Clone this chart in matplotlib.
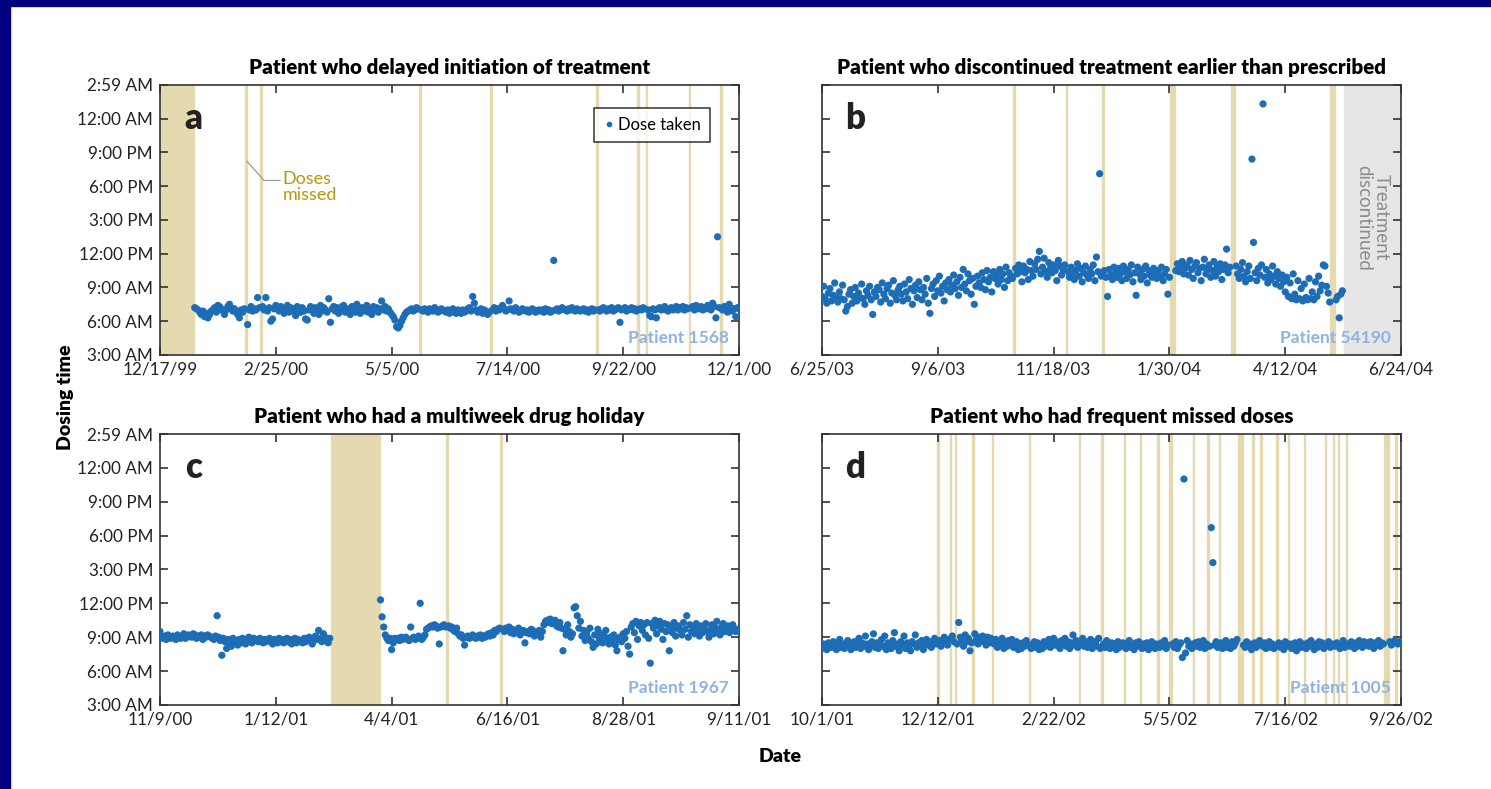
import numpy as np
import matplotlib
matplotlib.use("Agg")
import matplotlib.pyplot as plt
from matplotlib.lines import Line2D
from matplotlib.patches import Rectangle
from matplotlib.ticker import FuncFormatter

plt.rcParams['font.family'] = ['Lato', 'DejaVu Sans']

nan = np.nan

# panel a: one value per day (hour of day), nan = no dose that day
a_title = "Patient who delayed initiation of treatment"
a_dates = ["12/17/99", "2/25/00", "5/5/00", "7/14/00", "9/22/00", "12/1/00"]
a_span = 350
a_patient = "Patient 1568"
a_hours = [nan] * 21 + [
    7.2, 7.1, 7.0, 6.8, 6.6, 6.9, 6.4, 6.7, 6.3, 6.6,
    6.9, 7.0, 7.2, 6.8, 7.4, 7.3, 7.1, 6.9, 6.6, 7.0,
    7.3, 7.5, 7.2, 6.9, 7.1, 6.8, 6.6, 6.3, 7.0, 6.8,
    7.1, nan, 5.7, 7.0, 7.3, 6.9, 7.1, 7.0, 8.1, 7.2,
    nan, 7.3, 7.0, 8.1, 6.9, 7.2, 6.0, 6.2, 7.1, 7.4,
    7.2, 6.9, 7.3, 7.0, 6.7, 7.1, 7.4, 6.8, 7.2, 6.9,
    7.1, 6.5, 7.3, 7.0, 6.8, 7.2, 6.9, 6.2, 6.1, 7.0,
    7.3, 7.1, 6.7, 7.2, 7.0, 6.6, 7.4, 6.9, 7.2, 7.0,
    6.8, 8.0, 5.9, 7.1, 7.3, 6.9, 7.2, 6.7, 7.0, 7.3,
    7.4, 6.8, 7.1, 6.9, 6.6, 7.3, 7.0, 6.8, 7.5, 7.1,
    6.7, 7.2, 7.0, 6.9, 7.4, 6.8, 7.1, 6.6, 7.3, 7.0,
    7.2, 6.8, 7.1, 7.8, 7.0, 7.3, 6.9, 7.1, 6.8, 6.6,
    6.4, 6.1, 5.5, 5.4, 5.6, 6.0, 6.3, 6.6, 6.8, 6.9,
    7.0, 7.1, 6.9, 7.0, 7.2, 7.1, nan, 7.0, 6.9, 7.1,
    7.0, 6.8, 7.1, 7.0, 6.9, 7.2, 7.0, 6.8, 6.9, 7.1,
    7.0, 6.9, 6.8, 7.0, 6.7, 6.9, 7.1, 6.8, 6.7, 7.0,
    6.9, 6.7, 7.0, 6.8, 6.9, 7.1, 7.2, 6.9, 8.2, 7.6,
    7.0, 6.8, 6.9, 7.1, 6.7, 7.0, 6.9, 6.6, 6.8, nan,
    7.0, 7.2, 6.9, 7.1, 7.0, 7.2, 7.4, 7.1, 6.9, 7.0,
    7.8, 7.1, 7.0, 6.9, 7.2, 7.0, 6.8, 6.9, 7.1, 7.0,
    6.9, 7.0, 6.8, 6.9, 7.1, 7.0, 6.8, 6.9, 7.0, 6.9,
    7.0, 6.8, 7.1, 6.9, 7.0, 6.8, 6.9, 11.4, 7.0, 7.1,
    6.9, 7.0, 7.2, 7.1, 7.0, 6.9, 7.1, 7.0, 7.2, 7.0,
    6.9, 7.1, 7.0, 6.9, 7.0, 7.1, 6.9, 7.0, 6.8, 7.0,
    7.1, 6.9, 7.0, nan, 7.0, 6.9, 7.1, 7.2, 7.0, 6.9,
    7.1, 7.0, 7.2, 6.9, 7.0, 7.1, 7.2, 5.9, 7.0, 7.1,
    7.2, 6.9, 7.0, 7.1, 7.2, 7.0, 7.1, 6.9, nan, 7.1,
    7.0, 7.2, 7.1, nan, 7.0, 6.5, 6.4, 7.1, 7.0, 6.3,
    7.1, 7.2, 7.0, 7.1, 7.3, 7.0, 6.9, 7.1, 7.2, 7.0,
    7.1, 7.3, 7.0, 7.2, 7.1, 7.3, 7.0, 7.2, 7.1, nan,
    7.2, 7.3, 7.0, 7.4, 7.1, 7.2, 7.3, 7.0, 7.2, 7.1,
    7.4, 7.2, 7.0, 7.6, 7.3, 6.3, 13.5, 7.2, nan, 7.0,
    7.3, 7.1, 6.8, 7.5, 7.2, 6.9, 7.1, 6.4, 7.2, 7.1,
]

# panel b
b_title = "Patient who discontinued treatment earlier than prescribed"
b_dates = ["6/25/03", "9/6/03", "11/18/03", "1/30/04", "4/12/04", "6/24/04"]
b_span = 365
b_patient = "Patient 54190"
b_hours = [
    8.2, 9.1, 8.0, 7.6, 8.5, 8.9, 7.8, 8.3, 9.4, 8.1,
    7.7, 8.6, 8.0, 9.2, 7.9, 6.9, 7.3, 8.4, 8.8, 7.6,
    8.2, 9.0, 7.8, 8.5, 8.1, 9.3, 8.0, 7.5, 8.7, 8.3,
    9.1, 7.9, 6.6, 8.6, 8.2, 9.0, 8.8, 7.7, 9.4, 8.4,
    8.0, 8.9, 9.2, 7.6, 8.5, 9.6, 8.3, 7.9, 8.8, 9.1,
    8.4, 7.8, 9.3, 8.6, 8.0, 9.7, 8.9, 7.5, 8.7, 9.2,
    8.1, 9.5, 8.8, 7.9, 9.0, 8.4, 9.8, 7.6, 6.7, 8.9,
    9.3, 8.2, 9.6, 8.7, 10.0, 8.5, 9.1, 7.8, 9.4, 8.8,
    9.7, 8.6, 9.2, 10.1, 8.9, 9.5, 8.3, 9.9, 9.0, 10.6,
    9.3, 8.7, 10.2, 9.6, 8.4, 9.8, 7.5, 9.1, 10.0, 9.4,
    9.0, 10.3, 9.7, 8.8, 10.5, 9.5, 9.9, 8.6, 10.4, 9.8,
    10.1, 9.3, 10.6, 9.7, 10.2, 9.0, 10.8, 9.6, 10.3, 10.0,
    9.8, nan, 10.7, 10.2, 11.0, 10.4, 9.5, 10.9, 10.3, 10.6,
    9.7, 11.3, 10.5, 10.0, 11.1, 10.6, 11.5, 12.2, 10.2, 10.8,
    11.6, 10.4, 9.9, 11.2, 10.7, 10.3, 11.0, 10.5, 9.6, 11.4,
    10.9, 10.1, 10.6, 11.0, nan, 10.4, 9.9, 10.8, 10.2, 9.7,
    10.5, 11.1, 10.0, 10.7, 9.5, 10.3, 10.9, 10.1, 9.8, 10.6,
    10.2, 11.0, 9.6, 11.7, 10.4, 19.1, 10.0, nan, 10.5, 9.9,
    8.2, 10.6, 10.1, 9.7, 10.8, 10.3, 9.9, 10.7, 10.2, 9.6,
    10.9, 10.4, 9.8, 10.6, 10.1, 11.0, 9.5, 10.3, 8.3, 10.8,
    10.2, 9.7, 10.6, 10.0, 10.9, 9.4, 10.5, 10.1, 9.9, 10.7,
    10.3, 9.8, 10.5, 10.0, 10.8, 9.6, 10.2, 10.6, 8.4, 9.9,
    nan, nan, nan, 10.5, 11.1, 10.4, 10.9, 11.3, 10.2, 10.7,
    11.0, 10.1, 11.4, 10.6, 9.8, 10.9, 11.2, 10.3, 10.7, 9.6,
    10.8, 11.5, 10.2, 10.6, 11.0, 9.9, 10.5, 11.3, 10.0, 10.8,
    10.4, 11.1, 9.7, 10.6, 11.0, 12.4, 10.3, 10.8, nan, nan,
    nan, 10.9, 10.2, 9.8, 10.6, 11.2, 10.0, 9.5, 10.4, 10.9,
    9.8, 20.4, 13.0, 10.3, 9.6, 10.7, 10.1, 11.0, 25.3, 9.9,
    10.6, 9.4, 10.2, 9.7, 10.9, 10.0, 9.3, 10.4, 9.8, 9.1,
    10.1, 9.5, 8.6, 9.9, 8.2, 9.4, 8.0, 10.2, 8.4, 7.9,
    9.6, 8.0, 8.9, 7.8, 9.3, 8.1, 7.9, 9.8, 8.0, 8.6,
    7.9, 9.5, 8.2, 10.0, 8.7, 9.2, 11.0, 10.9, 9.1, 8.5,
    7.7, nan, nan, nan, 7.9, 8.2, 6.3, 8.4, 8.7,
]
b_stop_day = 329

# panel c
c_title = "Patient who had a multiweek drug holiday"
c_dates = ["11/9/00", "1/12/01", "4/4/01", "6/16/01", "8/28/01", "9/11/01"]
c_span = 365
c_patient = "Patient 1967"
c_before = [
    9.5, 9.0, 8.9, 9.1, 8.8, 9.2, 9.0, 8.9, 9.1, 9.0,
    8.8, 9.2, 9.0, 8.9, 9.1, 9.3, 8.9, 9.0, 9.2, 9.1,
    9.0, 9.3, 9.2, 8.9, 9.1, 9.0, 9.2, 8.8, 9.1, 9.0,
    9.2, 9.1, 9.0, 8.9, 8.8, 9.1, 10.9, 9.0, 8.7, 7.4,
    8.9, 8.6, 8.0, 8.8, 8.4, 8.2, 8.9, 8.6, 8.7, 8.3,
    8.8, 8.5, 8.9, 8.7, 8.4, 8.8, 9.0, 8.6, 8.5, 8.9,
    8.7, 8.8, 8.6, 8.9, 8.7, 8.5, 8.8, 8.6, 8.7, 8.9,
    8.6, 8.4, 8.8, 8.7, 8.5, 8.9, 8.6, 8.8, 8.5, 8.7,
    8.9, 8.6, 8.8, 8.4, 8.7, 8.9, 8.5, 8.8, 8.6, 8.7,
    8.5, 8.9, 8.6, 8.8, 9.0, 8.7, 8.4, 8.9, 9.1, 8.8,
    9.6, 8.9, 8.6, 9.3, 9.0, 8.7, 8.5, 8.9,
]
c_holiday_days = 31
c_after = [
    12.3, 10.8, 9.9, 9.2, 8.9, 8.7, 8.9, 7.9, 8.5, 8.9,
    8.8, 8.9, 8.7, 9.0, 8.8, 8.9, 9.0, 8.8, 8.7, 9.9,
    8.9, 9.0, 8.8, 8.9, 9.1, 12.0, 8.8, 9.0, 9.2, 9.7,
    9.8, 9.9, 10.0, 9.9, 10.1, 10.0, 9.8, 8.4, 9.9, 10.0,
    10.1, 9.9, nan, 10.0, 9.8, 9.9, 9.6, 9.5, 9.8, 9.3,
    9.1, 9.2, 8.9, 8.3, 9.0, 9.1, 8.9, 9.0, 9.2, 9.0,
    8.9, 9.1, 9.0, 9.2, 8.9, 9.1, 9.0, 9.2, 9.3, 9.1,
    9.4, 9.2, 9.6, 9.5, 9.7, 9.8, nan, 9.7, 9.5, 9.8,
    9.6, 9.9, 9.4, 9.7, 9.3, 9.6, 9.5, 9.8, 9.2, 9.4,
    9.6, 8.5, 9.4, 9.5, 9.3, 9.7, 9.6, 9.1, 9.4, 9.3,
    9.6, 9.0, 9.5, 10.1, 10.4, 10.5, 10.3, 10.6, 10.2, 10.4,
    10.5, 10.0, 9.9, 10.3, 9.8, 7.8, 9.7, 9.2, 10.1, 9.5,
    9.0, 9.3, 11.6, 11.7, 10.9, 9.8, 10.4, 9.1, 9.6, 8.7,
    9.4, 8.9, 9.8, 8.6, 8.1, 9.2, 8.4, 9.7, 8.8, 9.3,
    8.5, 9.1, 9.6, 8.9, 8.4, 9.0, 8.7, 9.2, 8.3, 7.8,
    8.8, 9.0, 8.6, 9.3, 8.9, 9.5, 8.2, 7.5, 9.9, 10.2,
    9.4, 10.4, 8.8, 10.0, 10.3, 9.6, 10.1, 9.2, 10.3, 8.9,
    6.7, 10.2, 9.8, 10.5, 9.3, 10.0, 10.4, 9.7, 8.8, 10.2,
    9.5, 10.1, 7.8, 9.9, 9.4, 10.3, 9.1, 9.8, 10.0, 9.6,
    9.2, 10.3, 9.7, 10.9, 9.0, 10.1, 9.5, 9.9, 9.3, 10.2,
    9.6, 9.1, 10.0, 9.4, 9.8, 10.2, 9.5, 9.0, 9.7, 10.1,
    9.3, 9.8, 10.4, 9.6, 9.2, 9.9, 10.2, 9.5, 9.7, 10.0,
    9.4, 9.8, 10.1, 9.6, 9.5, 9.7,
]
c_hours = c_before + [nan] * c_holiday_days + c_after

# panel d
d_title = "Patient who had frequent missed doses"
d_dates = ["10/1/01", "12/12/01", "2/22/02", "5/5/02", "7/16/02", "9/26/02"]
d_span = 360
d_patient = "Patient 1005"
d_hours = [
    8.0, 8.4, 8.2, 7.9, 8.5, 8.3, 8.1, 8.6, 8.2, 7.9,
    8.4, 8.8, 8.1, 8.3, 8.0, 8.5, 8.7, 8.2, 7.9, 8.4,
    8.6, 8.1, 8.3, 8.9, 8.0, 8.5, 8.2, 9.1, 8.4, 7.9,
    8.3, 8.6, 9.3, 8.1, 8.5, 8.0, 8.4, 8.8, 8.2, 9.1,
    7.9, 8.5, 8.3, 8.0, 8.7, 9.4, 8.2, 8.4, 7.8, 8.6,
    8.3, 9.1, 8.0, 8.5, 8.2, 7.8, 8.6, 8.4, 9.2, 8.1,
    8.5, 8.2, 8.7, 7.9, 8.4, 8.8, 8.3, 8.6, 8.1, 8.5,
    8.9, 8.4, nan, 8.7, 8.2, 8.6, 9.0, 8.5, 8.3, 8.8,
    nan, 9.1, 8.6, nan, 8.4, 10.3, 9.0, 8.7, 8.2, 9.2,
    8.6, 8.9, 7.8, 8.5, nan, 9.3, 8.8, 8.4, 9.0, 8.6,
    9.1, 8.7, 8.3, 9.0, 8.5, 8.9, nan, 8.4, 8.8, 8.1,
    8.6, 8.3, 8.9, 8.0, 8.5, 8.2, 8.7, 8.4, 8.8, 8.1,
    8.3, 8.6, 7.9, 8.4, 8.0, 8.5, 8.2, 8.7, 8.3, nan,
    8.0, 8.4, 8.6, 8.1, 8.5, 7.9, 8.3, 8.0, 8.6, 8.2,
    8.4, 8.8, 8.1, 8.5, 8.9, 8.3, 8.6, 8.2, 8.0, 8.7,
    8.4, 8.9, 8.2, 8.6, 8.0, 8.5, 9.2, 8.3, 8.7, 8.1,
    nan, 8.4, 8.9, 8.2, 8.6, 8.1, 8.5, 8.8, 8.0, 8.3,
    8.6, 8.2, 8.9, 8.0, nan, 8.4, 8.1, 8.7, 8.3, 8.0,
    8.5, 8.2, 8.4, 7.9, 8.6, 8.1, 8.3, 8.5, nan, 8.0,
    8.4, 8.7, 8.1, 8.3, 7.9, 8.5, 8.2, 8.6, nan, 8.0,
    8.4, 8.1, 8.5, 7.9, 8.3, 8.6, 8.2, 8.0, 8.4, nan,
    8.1, 8.5, 8.2, 8.7, 8.0, 8.3, nan, nan, 8.4, 8.1,
    8.6, 8.0, 8.3, 8.5, 7.2, 23.0, 7.6, 8.7, 8.2, 8.4,
    8.0, nan, 8.5, 8.2, 8.6, 8.1, 8.3, 8.7, 8.0, 8.4,
    nan, 8.2, 18.7, 15.6, 8.3, 8.6, 8.1, nan, 8.5, 8.0,
    8.3, 8.7, 8.1, 8.4, 8.0, 8.6, 8.2, 8.5, 8.8, nan,
    nan, nan, 8.3, 8.1, 8.6, 8.2, 8.4, 7.9, nan, 8.5,
    8.1, 8.4, 8.7, nan, 8.2, 8.5, 8.0, 8.3, 8.6, 8.1,
    8.4, 8.0, 8.2, nan, 8.5, 8.1, 8.3, 7.9, 8.6, 8.2,
    nan, 8.4, 8.0, 8.3, 8.5, 7.8, 8.2, 8.6, 8.1, 8.4,
    nan, 8.0, 8.5, 8.2, 8.7, 8.3, 7.9, 8.4, 8.1, 8.6,
    8.2, 8.5, 8.0, nan, 8.3, 8.6, 8.1, 8.4, nan, 8.2,
    8.5, nan, 8.0, 8.3, 8.7, 8.1, nan, 8.4, 8.2, 8.6,
    8.3, 8.0, 8.5, 8.2, 8.7, 8.4, 8.1, 8.6, 8.3, 8.5,
    8.2, 8.6, 8.4, 8.0, 8.5, 8.3, 8.7, 8.2, 8.5, 8.4,
    nan, nan, nan, 8.6, 8.3, 8.5, 8.7, nan, 8.4, 8.6,
]

hour_ticks = [3, 6, 9, 12, 15, 18, 21, 24, 27 - 1 / 60]

dot_color = "#1c6cb6"
missed_color = "#e4d9af"
patient_color = "#8fb2e2"


def clock(h, pos=None):
    m = int(round(h * 60)) % (24 * 60)
    hh, mm = divmod(m, 60)
    suffix = "AM" if hh < 12 else "PM"
    return f"{hh % 12 or 12}:{mm:02d} {suffix}"


def missed_runs(h):
    runs = []
    start = None
    for i, v in enumerate(h):
        if np.isnan(v) and start is None:
            start = i
        if not np.isnan(v) and start is not None:
            runs.append((start, i - 1))
            start = None
    if start is not None:
        runs.append((start, len(h) - 1))
    return runs


def panel(ax, hours, span, dates, title, letter, patient, ylabels):
    hours = np.array(hours, dtype=float)
    days = np.arange(len(hours))
    for s, e in missed_runs(hours):
        ax.axvspan(s - 0.5, e + 0.5, color=missed_color, lw=1.0, zorder=0)
    ax.scatter(days, hours, s=27, color=dot_color, edgecolors="none", zorder=3)
    ax.set_xlim(0, span)
    ax.set_ylim(3, 27 - 1 / 60)
    ax.set_xticks(np.linspace(0, span, len(dates)))
    ax.set_xticklabels(dates)
    ax.set_yticks(hour_ticks)
    ax.yaxis.set_major_formatter(FuncFormatter(clock))
    if not ylabels:
        ax.set_yticklabels([])
    ax.tick_params(direction="in", length=6, width=1.1, top=True, right=True,
                   labelsize=12.3, colors="#222222", pad=5)
    for sp in ax.spines.values():
        sp.set_color("#333333")
        sp.set_linewidth(1.2)
    ax.set_title(title, fontsize=14.8, fontweight="heavy", pad=8)
    ax.text(0.058, 0.875, letter, transform=ax.transAxes, fontsize=25,
            fontweight="heavy", ha="center", va="center", color="#222222")
    ax.text(0.982, 0.062, patient, transform=ax.transAxes, fontsize=12.5,
            fontweight="bold", ha="right", va="center", color=patient_color, zorder=4)


fig = plt.figure(figsize=(14.91, 7.89), dpi=100)
ax_a = fig.add_axes([0.1073, 0.5501, 0.3884, 0.3422])
ax_b = fig.add_axes([0.5513, 0.5501, 0.3884, 0.3422])
ax_c = fig.add_axes([0.1073, 0.1065, 0.3884, 0.3434])
ax_d = fig.add_axes([0.5513, 0.1065, 0.3884, 0.3434])

panel(ax_a, a_hours, a_span, a_dates, a_title, "a", a_patient, True)
panel(ax_b, b_hours, b_span, b_dates, b_title, "b", b_patient, False)
panel(ax_c, c_hours, c_span, c_dates, c_title, "c", c_patient, True)
panel(ax_d, d_hours, d_span, d_dates, d_title, "d", d_patient, False)

# discontinued region in b
ax_b.axvspan(b_stop_day, b_span, color="#e6e6e6", zorder=1)
ax_b.text((b_stop_day + b_span) / 2, 15.2, "Treatment\ndiscontinued", rotation=270,
          ha="center", va="center", fontsize=13.5, color="#8c8c8c", linespacing=1.0, zorder=2)

# legend in a
h = Line2D([], [], ls="none", marker="o", markersize=3, color=dot_color)
leg = ax_a.legend([h], ["Dose taken"], loc="upper right", bbox_to_anchor=(0.95, 0.915),
                  fontsize=12, frameon=True, fancybox=False, handletextpad=0.2,
                  handlelength=0.7, borderpad=0.55, borderaxespad=0)
leg.get_frame().set_edgecolor("black")
leg.get_frame().set_linewidth(1.1)

# doses missed callout in a
ax_a.plot([52.6, 62.9, 72.5], [20.2, 18.5, 18.5], color="#9a9a9a", lw=0.9, zorder=4)
ax_a.text(74.0, 19.3, "Doses\nmissed", fontsize=13, color="#b8960f", va="top",
          ha="left", linespacing=1.0)

fig.text(0.044, 0.497, "Dosing time", rotation=90, ha="center", va="center",
         fontsize=14, fontweight="heavy")
fig.text(0.523, 0.041, "Date", ha="center", va="center", fontsize=14, fontweight="heavy")

# navy frame along top and left edge
fig.add_artist(Rectangle((0, 1 - 6 / 789), 1, 6 / 789, transform=fig.transFigure,
                         color="#000080", zorder=10))
fig.add_artist(Rectangle((0, 0), 10 / 1491, 1, transform=fig.transFigure,
                         color="#000080", zorder=10))

fig.savefig("out.png", dpi=100, facecolor="white")
